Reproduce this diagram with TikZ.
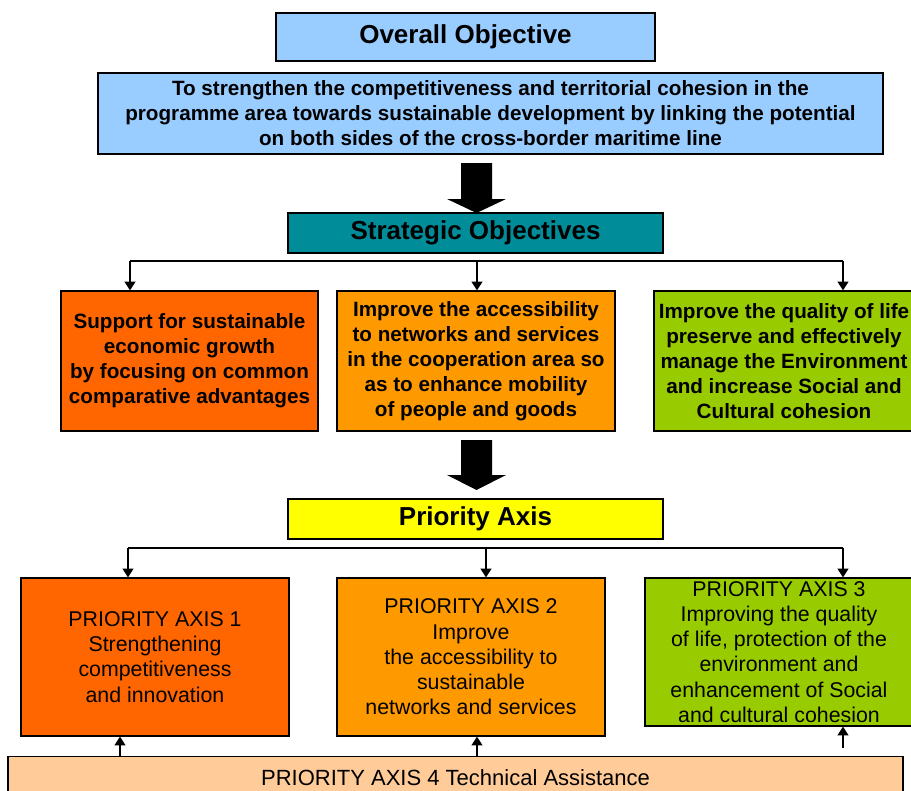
\documentclass[tikz,border=0pt]{standalone}
\usepackage{fontspec}
\setmainfont{Liberation Sans}
\usetikzlibrary{arrows.meta, positioning, calc, shadows}

\newlength\px
\setlength\px{0.75pt}

\definecolor{skyblue}{HTML}{99CCFF}
\definecolor{tealbox}{RGB}{0,140,153}
\definecolor{orangeA}{HTML}{FF6600}
\definecolor{orangeB}{HTML}{FF9900}
\definecolor{greenC}{HTML}{99CC00}
\definecolor{yellowD}{HTML}{FFFF00}
\definecolor{peachE}{HTML}{FFCC99}

\tikzset{
    box/.style={draw=black, line width=0.9pt, align=center, inner sep=2pt,
        drop shadow={shadow xshift=0.9pt, shadow yshift=-1.1pt, fill=black, opacity=1}},
    head/.style={box, font=\fontsize{19.5}{22}\selectfont\bfseries},
    sobox/.style={box, font=\fontsize{15.5}{18.75}\selectfont\bfseries},
    pabox/.style={box, font=\fontsize{16}{18.9}\selectfont},
    link/.style={line width=1.2pt, -{Triangle[width=8pt,length=6.5pt]}},
    bar/.style={line width=1.2pt}
}

\begin{document}
\begin{tikzpicture}[x=0.75pt, y=-0.75pt]
        \useasboundingbox (0,0) rectangle (911,790);

        \node[head, fill=skyblue, minimum width=379\px, minimum height=48\px] (obj) at (465.5, 37) {Overall Objective}; % title
        \node[sobox, fill=skyblue, minimum width=785\px, minimum height=81\px] (goal) at (490.5, 113.5)
            {To strengthen the competitiveness and territorial cohesion in the\\
             programme area towards sustainable development by linking the potential\\
             on both sides of the cross-border maritime line}; % goal

        \node[head, fill=tealbox, minimum width=375\px, minimum height=40\px] (strat) at (475.5, 233) {Strategic Objectives}; % strategic
        \node[sobox, fill=orangeA, minimum width=257\px, minimum height=140\px] (so1) at (189.5, 361)
            {Support for sustainable\\ economic growth\\ by focusing on common\\ comparative advantages};
        \node[sobox, fill=orangeB, minimum width=278\px, minimum height=140\px] (so2) at (476, 361)
            {Improve the accessibility\\ to networks and services\\ in the cooperation area so\\ as to enhance mobility\\ of people and goods};
        \node[sobox, fill=greenC, minimum width=260\px, minimum height=140\px] (so3) at (784, 361)
            {Improve the quality of life\\ preserve and effectively\\ manage the Environment\\ and increase Social and\\ Cultural cohesion};

        \node[head, fill=yellowD, minimum width=375\px, minimum height=40\px] (prio) at (475.5, 519) {Priority Axis}; % priority
        \node[pabox, fill=orangeA, minimum width=268\px, minimum height=158\px] (pa1) at (155, 657)
            {PRIORITY AXIS 1\\ Strengthening\\ competitiveness\\ and innovation};
        \node[pabox, fill=orangeB, minimum width=268\px, minimum height=158\px] (pa2) at (471, 657)
            {PRIORITY AXIS 2\\ Improve\\ the accessibility to\\ sustainable\\ networks and services};
        \node[pabox, fill=greenC, minimum width=268\px, minimum height=148\px] (pa3) at (779, 652)
            {PRIORITY AXIS 3\\ Improving the quality\\ of life, protection of the\\ environment and\\ enhancement of Social\\ and cultural cohesion};
        \node[box, fill=peachE, font=\fontsize{16.5}{19}\selectfont, minimum width=895\px, minimum height=42\px, anchor=north] (pa4) at (455.5, 756)
            {PRIORITY AXIS 4 Technical Assistance};

        % big arrows
        \fill (461,163) -- (492,163) -- (492,199) -- (506,199) -- (476.5,213) -- (447,199) -- (461,199) -- cycle;
        \fill (461,440) -- (492,440) -- (492,475) -- (506,475) -- (476.5,490) -- (447,475) -- (461,475) -- cycle;

        \coordinate (sl) at (130, 261);
        \coordinate (sm) at (477, 261);
        \coordinate (sr) at (843, 261);
        \coordinate (pl) at (128, 548);
        \coordinate (pm) at (486, 548);
        \coordinate (pr) at (843, 548);
        \coordinate (ul) at (120, 756);
        \coordinate (um) at (477, 756);
        \coordinate (ur) at (843, 748);

        \draw[bar] (sl) -- (sr);
        \draw[link] (sl) -- (sl |- so1.north);
        \draw[link] (sm) -- (sm |- so2.north);
        \draw[link] (sr) -- (sr |- so3.north);

        \draw[bar] (pl) -- (pr);
        \draw[link] (pl) -- (pl |- pa1.north);
        \draw[link] (pm) -- (pm |- pa2.north);
        \draw[link] (pr) -- (pr |- pa3.north);

        \draw[link] (ul) -- (ul |- pa1.south);
        \draw[link] (um) -- (um |- pa2.south);
        \draw[link] (ur) -- (ur |- pa3.south);
\end{tikzpicture}
\end{document}
